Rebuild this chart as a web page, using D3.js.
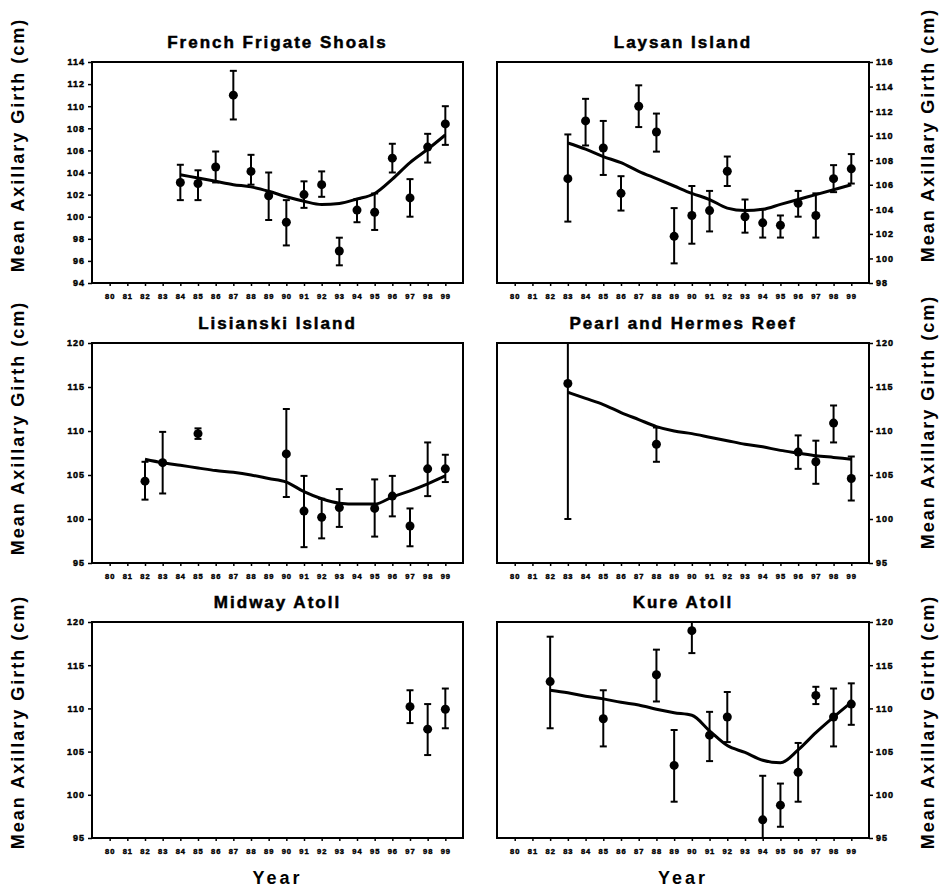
<!DOCTYPE html>
<html>
<head>
<meta charset="utf-8">
<script src="https://cdn.jsdelivr.net/npm/d3@7"></script>
<style>
  body { margin: 0; background: #fff; }
  svg text { font-family: "Liberation Sans", Arial, sans-serif; font-weight: bold; fill: #000; }
  .tick text { stroke: #000; stroke-width: 0.45px; }
  .tick line { stroke: #000; stroke-width: 1.5px; }
  .domain { display: none; }
</style>
</head>
<body>
<div id="chart-container"></div>
<script>
// ---- data ----
var siteNames = ["French Frigate Shoals", "Laysan Island", "Lisianski Island",
                 "Pearl and Hermes Reef", "Midway Atoll", "Kure Atoll"];

var yearTicks = [80, 81, 82, 83, 84, 85, 86, 87, 88, 89, 90, 91, 92, 93, 94, 95, 96, 97, 98, 99];

var ffsTicks = [94, 96, 98, 100, 102, 104, 106, 108, 110, 112, 114];
var laysanTicks = [98, 100, 102, 104, 106, 108, 110, 112, 114, 116];
var wideTicks = [95, 100, 105, 110, 115, 120];

// [year, mean, lower, upper]
var ffsPoints = [
  [84, 103.1, 101.5, 104.7], [85, 103.0, 101.5, 104.2], [86, 104.5, 103.1, 105.9],
  [87, 111.0, 108.8, 113.2], [88, 104.1, 102.9, 105.6], [89, 101.9, 99.7, 104.0],
  [90, 99.5, 97.4, 101.5], [91, 102.0, 100.8, 103.2], [92, 102.9, 101.8, 104.1],
  [93, 96.9, 95.6, 98.1], [94, 100.6, 99.5, 101.6], [95, 100.4, 98.8, 102.1],
  [96, 105.3, 104.0, 106.6], [97, 101.7, 100.0, 103.4], [98, 106.3, 104.9, 107.5],
  [99, 108.4, 106.5, 110.0]
];
var ffsTrend = [[84, 103.8], [85, 103.5], [86, 103.2], [87, 102.9], [88, 102.7], [89, 102.3],
  [90, 101.8], [91, 101.4], [92, 101.1], [93, 101.2], [94, 101.6], [95, 102.1],
  [96, 103.4], [97, 104.9], [98, 106.1], [99, 107.4]];

var laysanPoints = [
  [83, 106.5, 103.0, 110.1], [84, 111.2, 109.2, 113.0], [85, 109.0, 106.8, 111.2],
  [86, 105.3, 103.9, 106.7], [87, 112.4, 110.7, 114.1], [88, 110.3, 108.7, 111.8],
  [89, 101.8, 99.6, 104.1], [90, 103.5, 101.2, 105.9], [91, 103.9, 102.2, 105.5],
  [92, 107.1, 105.9, 108.3], [93, 103.4, 102.1, 104.8], [94, 102.9, 101.7, 104.0],
  [95, 102.7, 101.7, 103.5], [96, 104.5, 103.4, 105.5], [97, 103.5, 101.7, 105.3],
  [98, 106.5, 105.4, 107.6], [99, 107.3, 106.1, 108.5]
];
var laysanTrend = [[83, 109.4], [84, 108.9], [85, 108.3], [86, 107.8], [87, 107.1], [88, 106.5],
  [89, 105.9], [90, 105.3], [91, 104.8], [92, 104.1], [93, 103.9], [94, 104.0],
  [95, 104.4], [96, 104.8], [97, 105.2], [98, 105.6], [99, 106.0]];

var lisianskiPoints = [
  [82, 104.3, 102.2, 106.5], [83, 106.4, 102.9, 109.9], [85, 109.7, 109.1, 110.3],
  [90, 107.4, 102.5, 112.5], [91, 100.9, 96.8, 104.9], [92, 100.2, 97.8, 102.3],
  [93, 101.3, 99.1, 103.4], [95, 101.2, 98.0, 104.5], [96, 102.6, 100.3, 104.9],
  [97, 99.2, 96.9, 101.2], [98, 105.7, 102.6, 108.7], [99, 105.7, 104.2, 107.3]
];
var lisianskiTrend = [[82, 106.8], [83, 106.4], [84, 106.1], [85, 105.8], [86, 105.5], [87, 105.3],
  [88, 105.0], [89, 104.6], [90, 104.2], [91, 103.1], [92, 102.3], [93, 101.8],
  [94, 101.7], [95, 101.7], [96, 102.5], [97, 103.2], [98, 104.0], [99, 104.9]];

var pearlPoints = [
  [83, 115.4, 100.0, 130.8], [88, 108.5, 106.5, 110.4], [96, 107.6, 105.7, 109.5],
  [97, 106.5, 104.0, 108.9], [98, 110.9, 108.7, 112.9], [99, 104.6, 102.1, 107.1]
];
var pearlTrend = [[83, 114.4], [84, 113.7], [85, 113.0], [86, 112.1], [87, 111.3], [88, 110.5],
  [89, 110.0], [90, 109.7], [91, 109.3], [92, 108.9], [93, 108.5], [94, 108.2],
  [95, 107.8], [96, 107.5], [97, 107.2], [98, 107.0], [99, 106.8]];

var midwayPoints = [
  [97, 110.2, 108.3, 112.1], [98, 107.6, 104.6, 110.5], [99, 109.9, 107.7, 112.3]
];
var midwayTrend = [];

var kurePoints = [
  [82, 113.1, 107.7, 118.3], [85, 108.8, 105.6, 112.1], [88, 113.9, 110.8, 116.8],
  [89, 103.4, 99.2, 107.5], [90, 119.0, 116.4, 121.6], [91, 106.9, 103.9, 109.6],
  [92, 109.0, 106.1, 111.9], [94, 97.1, 92.0, 102.2], [95, 98.8, 96.3, 101.3],
  [96, 102.6, 99.2, 106.0], [97, 111.5, 110.5, 112.5], [98, 109.0, 105.6, 112.3],
  [99, 110.5, 108.1, 112.9]
];
var kureTrend = [[82, 112.1], [83, 111.8], [84, 111.4], [85, 111.1], [86, 110.7], [87, 110.4],
  [88, 109.9], [89, 109.5], [90, 109.2], [91, 107.4], [92, 105.7], [93, 104.9],
  [94, 104.0], [95, 103.7], [96, 105.2], [97, 107.2], [98, 109.0], [99, 110.7]];

var panels = [
  {name: siteNames[0], ticks: ffsTicks, points: ffsPoints, trend: ffsTrend},
  {name: siteNames[1], ticks: laysanTicks, points: laysanPoints, trend: laysanTrend},
  {name: siteNames[2], ticks: wideTicks, points: lisianskiPoints, trend: lisianskiTrend},
  {name: siteNames[3], ticks: wideTicks, points: pearlPoints, trend: pearlTrend},
  {name: siteNames[4], ticks: wideTicks, points: midwayPoints, trend: midwayTrend},
  {name: siteNames[5], ticks: wideTicks, points: kurePoints, trend: kureTrend}
];

// ---- layout ----
var colLeft = [92, 497], colWidth = [371, 372];
var rowTop = [62, 343, 622], rowHeight = [221, 220, 216];
var leftTitleY = [145, 428, 722], rightTitleY = [135, 422, 722];

var svg = d3.select("#chart-container")
  .append("svg")
    .attr("width", 944)
    .attr("height", 890);

var trendLine = d3.line().curve(d3.curveMonotoneX);

panels.forEach(function(p, i) {
  var col = i % 2, row = Math.floor(i / 2);
  var left = colLeft[col], top = rowTop[row], w = colWidth[col], h = rowHeight[row];

  var x = d3.scaleLinear().domain([79, 100]).range([left, left + w]);
  var y = d3.scaleLinear().domain(d3.extent(p.ticks)).range([top + h, top]);

  var g = svg.append("g").attr("class", "panel");

  g.append("clipPath")
      .attr("id", "clip" + i)
    .append("rect")
      .attr("x", left).attr("y", top)
      .attr("width", w).attr("height", h);

  // axes
  var yAxis = (col === 0 ? d3.axisLeft(y) : d3.axisRight(y))
      .tickValues(p.ticks)
      .tickSize(4)
      .tickPadding(3);
  g.append("g")
      .attr("transform", "translate(" + (col === 0 ? left : left + w) + ",0)")
      .call(yAxis)
      .selectAll("text")
        .style("font-size", "9px")
        .style("letter-spacing", "1px");

  var xAxis = d3.axisBottom(x)
      .tickValues(yearTicks)
      .tickFormat(function(d) { return d; })
      .tickSize(3)
      .tickPadding(8);
  g.append("g")
      .attr("transform", "translate(0," + (top + h) + ")")
      .call(xAxis)
      .selectAll("text")
        .style("font-size", "7.5px")
        .style("letter-spacing", "1px");

  // frame
  g.append("rect")
      .attr("x", left).attr("y", top)
      .attr("width", w).attr("height", h)
      .attr("fill", "none")
      .attr("stroke", "#000")
      .attr("stroke-width", 2);

  var plot = g.append("g").attr("clip-path", "url(#clip" + i + ")");

  if (p.trend.length) {
    plot.append("path")
        .attr("d", trendLine(p.trend.map(function(d) { return [x(d[0]), y(d[1])]; })))
        .attr("fill", "none")
        .attr("stroke", "#000")
        .attr("stroke-width", 3);
  }

  var bars = plot.selectAll(".err")
      .data(p.points)
      .enter().append("g")
      .attr("class", "err");

  bars.append("line")
      .attr("x1", function(d) { return x(d[0]); })
      .attr("x2", function(d) { return x(d[0]); })
      .attr("y1", function(d) { return y(d[2]); })
      .attr("y2", function(d) { return y(d[3]); })
      .attr("stroke", "#000")
      .attr("stroke-width", 2);

  [2, 3].forEach(function(k) {
    bars.append("line")
        .attr("x1", function(d) { return x(d[0]) - 3.5; })
        .attr("x2", function(d) { return x(d[0]) + 3.5; })
        .attr("y1", function(d) { return y(d[k]); })
        .attr("y2", function(d) { return y(d[k]); })
        .attr("stroke", "#000")
        .attr("stroke-width", 2);
  });

  bars.append("circle")
      .attr("cx", function(d) { return x(d[0]); })
      .attr("cy", function(d) { return y(d[1]); })
      .attr("r", 4.5)
      .attr("fill", "#000");

  // panel title
  g.append("text")
      .attr("x", left + w / 2)
      .attr("y", top - 14)
      .attr("text-anchor", "middle")
      .style("font-size", "17px")
      .style("letter-spacing", "2px")
      .style("stroke", "#000")
      .style("stroke-width", "0.5px")
      .text(p.name);

  // y axis title (both sides)
  var tx = col === 0 ? 18 : 928;
  var ty = col === 0 ? leftTitleY[row] : rightTitleY[row];
  g.append("text")
      .attr("transform", "translate(" + tx + "," + ty + ") rotate(-90)")
      .attr("dy", "0.35em")
      .attr("text-anchor", "middle")
      .style("font-size", "18px")
      .style("letter-spacing", "2px")
      .text("Mean Axillary Girth (cm)");

  if (row === 2) {
    g.append("text")
        .attr("x", left + w / 2)
        .attr("y", 884)
        .attr("text-anchor", "middle")
        .style("font-size", "18px")
        .style("letter-spacing", "3px")
        .text("Year");
  }
});
</script>
</body>
</html>
